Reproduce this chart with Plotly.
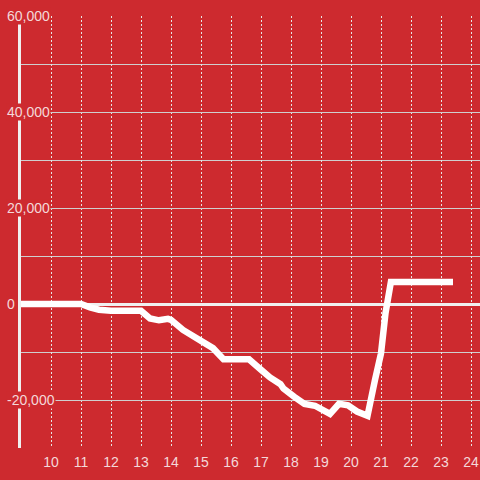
import plotly.graph_objects as go

x_vals = [9.0, 11.0, 11.3, 11.6, 12.0, 13.0, 13.3, 13.6, 13.9, 14.0, 14.4, 15.0, 15.4, 15.75,
          16.6, 17.0, 17.3, 17.65, 17.75, 18.1, 18.45, 18.8, 19.1, 19.3, 19.6, 19.9, 20.2,
          20.55, 20.8, 21.0, 21.15, 21.33, 23.4]
y_vals = [0, 0, -700, -1200, -1400, -1400, -3000, -3400, -3100, -3300, -5400, -7500, -9200, -11500,
          -11500, -13700, -15300, -16700, -17600, -19300, -20800, -21200, -22400, -22900, -20800,
          -21100, -22400, -23300, -15800, -10300, -1900, 4600, 4600]

x_tick_vals = list(range(10, 25))
y_tick_vals = [-20000, 0, 20000, 40000, 60000]
y_tick_text = [f"{v:,}" for v in y_tick_vals]

x_range = [9, 24.3]
y_range = [-30000, 60000]

BG = "#cd2a2f"
LABEL = "#f4d8d9"
FONT = "Liberation Sans, Arial, sans-serif"

W, H = 480, 480
ML, MR, MT, MB = 21, 0, 16, 32
plot_w = W - ML - MR

fig = go.Figure()
fig.add_trace(go.Scatter(x=x_vals, y=y_vals, mode="lines",
                         line=dict(color="white", width=6.5), hoverinfo="skip"))

# y tick labels drawn over the axis with a background mask (as in the reference)
label_x = -15 / plot_w
for v, t in zip(y_tick_vals, y_tick_text):
    fig.add_annotation(x=label_x, xref="paper", xanchor="left",
                       y=v, yref="y", yanchor="middle",
                       text=t, showarrow=False, bgcolor=BG, borderpad=0,
                       font=dict(family=FONT, size=14, color=LABEL))

fig.update_layout(
    width=W, height=H,
    margin=dict(l=ML, r=MR, t=MT, b=MB, autoexpand=False),
    paper_bgcolor=BG, plot_bgcolor=BG,
    showlegend=False,
    font=dict(family=FONT, size=14, color=LABEL),
)
fig.update_xaxes(
    range=x_range, tickvals=x_tick_vals,
    showgrid=True, gridcolor="#e6e6e6", griddash="2px,2px", gridwidth=1,
    zeroline=False, showline=False, ticks="",
    tickfont=dict(size=14, color=LABEL), automargin=False,
    ticklabeloverflow="allow", ticklabelstandoff=4,
)
fig.update_yaxes(
    range=y_range, dtick=20000, tick0=0,
    showgrid=True, gridcolor="#cfcfcf", gridwidth=1,
    minor=dict(dtick=10000, showgrid=True, gridcolor="#cfcfcf", gridwidth=1),
    zeroline=True, zerolinecolor="#f0f0f0", zerolinewidth=3,
    showline=True, linecolor="#f0f0f0", linewidth=3,
    ticks="", showticklabels=False, automargin=False,
)

# remove the default 8px page margin so the 480x480 figure fills the window
fig.write_html("out.html", config={"displayModeBar": False},
               post_script="document.body.style.margin='0px';")
